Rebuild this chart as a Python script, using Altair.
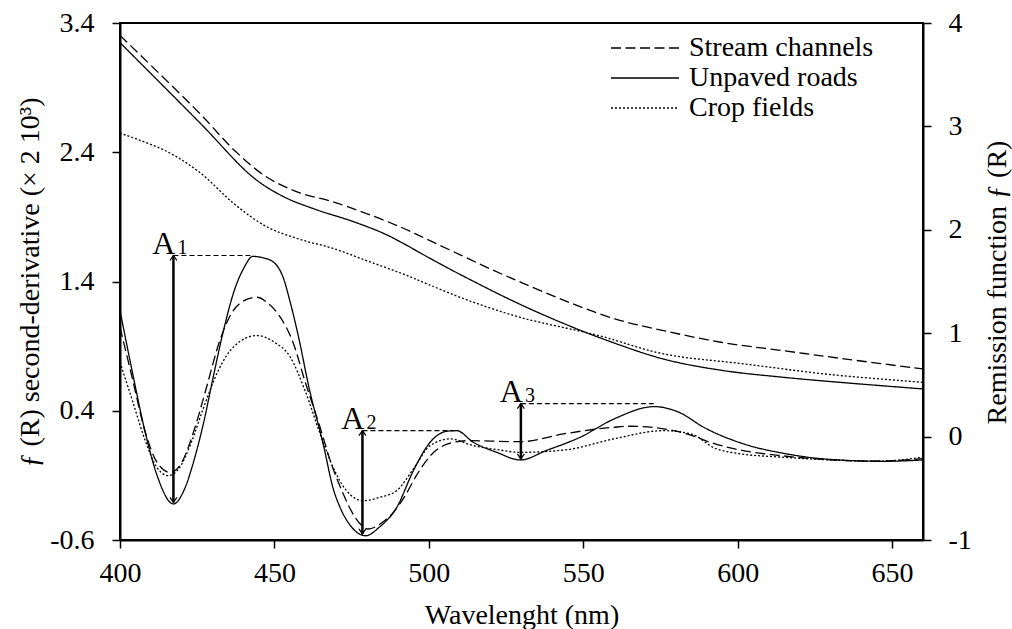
import altair as alt
import pandas as pd

FONT = "Liberation Serif"
SERIES = ["Stream channels", "Unpaved roads", "Crop fields"]

# ---------- Remission function f(R)  (right axis) ----------
wl_R_stream = [400, 426, 437, 447.5, 458, 469, 480, 491, 500, 510, 520, 530, 544, 560, 576, 595, 615, 635, 660]
R_stream = [3.88, 3.12, 2.77, 2.51, 2.36, 2.27, 2.155, 2.025, 1.90, 1.76, 1.62, 1.49, 1.315, 1.14, 1.025, 0.91, 0.83, 0.75, 0.654]

wl_R_roads = [400, 426, 443, 453, 464, 474.5, 485, 491, 500, 510, 527, 540, 555, 576, 595, 615, 635, 660]
R_roads = [3.81, 3.03, 2.51, 2.32, 2.19, 2.09, 1.97, 1.88, 1.73, 1.57, 1.315, 1.14, 0.96, 0.75, 0.64, 0.573, 0.52, 0.461]

wl_R_crop = [400, 415, 426, 437, 447.5, 458, 469, 480, 491, 500, 513, 530, 555, 576, 602, 630, 660]
R_crop = [2.935, 2.76, 2.55, 2.25, 2.03, 1.91, 1.82, 1.70, 1.58, 1.47, 1.315, 1.15, 0.977, 0.80, 0.703, 0.60, 0.525]

# ---------- f(R) second derivative  (left axis) ----------
wl_D_stream = [400, 404, 408, 412, 416.2, 420, 424, 428, 432, 436, 440, 444.3, 448, 452, 456, 460, 464.8, 468,
               472.3, 476, 480.4, 484, 488, 492, 496, 500.4, 508, 513.4, 520, 529.8, 543.6, 559.8, 565, 576, 585,
               591, 600, 615, 630, 645, 660]
D_stream = [1.046, 0.65, 0.25, 0.0, -0.077, 0.0, 0.25, 0.58, 0.92, 1.15, 1.25, 1.278, 1.23, 1.12, 0.93, 0.62, 0.27, 0.02,
            -0.244, -0.42, -0.515, -0.48, -0.40, -0.27, -0.10, 0.05, 0.156, 0.169, 0.165, 0.161, 0.221, 0.272, 0.28,
            0.26, 0.21, 0.156, 0.10, 0.05, 0.02, 0.01, 0.03]

wl_D_roads = [400, 404, 408, 412, 417.3, 421, 424, 427, 430, 433.5, 437, 440, 443, 446, 449.7, 453, 455, 458, 461,
              466, 469, 471.3, 475, 479.5, 484, 489.6, 495, 500.4, 505.8, 509, 514.4, 522, 529.6, 538, 549, 560,
              573, 581, 589, 602, 615, 628, 647, 660]
D_roads = [1.175, 0.70, 0.25, -0.10, -0.321, -0.20, 0.02, 0.30, 0.64, 1.02, 1.33, 1.50, 1.594, 1.585, 1.55, 1.42, 1.25,
           0.95, 0.60, 0.12, -0.20, -0.35, -0.50, -0.567, -0.50, -0.348, -0.063, 0.156, 0.241, 0.246, 0.156, 0.078,
           0.019, 0.092, 0.195, 0.337, 0.432, 0.388, 0.272, 0.143, 0.07, 0.027, 0.009, 0.019]

wl_D_crop = [400, 404, 408, 412, 415.6, 419, 423, 427, 432, 437, 444.3, 450, 455, 460, 464.8, 469, 473.4, 478.8,
             484, 489.6, 495, 500.4, 506.9, 514.4, 522, 529.6, 545, 559.8, 576, 585, 592.6, 600, 615, 630, 645, 660]
D_crop = [0.775, 0.48, 0.18, -0.04, -0.102, -0.05, 0.15, 0.42, 0.72, 0.90, 0.982, 0.93, 0.82, 0.55, 0.221, -0.038,
          -0.22, -0.296, -0.27, -0.218, -0.05, 0.13, 0.182, 0.13, 0.10, 0.078, 0.10, 0.182, 0.246, 0.22, 0.11, 0.07,
          0.04, 0.02, 0.01, 0.04]

# ---------- A1..A3 annotations (left axis units) ----------
ann_letter = ["A", "A", "A"]
ann_index = ["1", "2", "3"]
ann_wl = [417.3, 478.5, 529.8]
ann_top = [1.601, 0.246, 0.455]
ann_bottom = [-0.309, -0.553, 0.027]
ann_guide_end = [443.2, 509.0, 572.8]


def long_df(pairs):
    rows = []
    for name, wls, vals in pairs:
        for w, v in zip(wls, vals):
            rows.append({"wl": w, "val": v, "surface": name})
    return pd.DataFrame(rows)


df_R = long_df([(SERIES[0], wl_R_stream, R_stream), (SERIES[1], wl_R_roads, R_roads), (SERIES[2], wl_R_crop, R_crop)])
df_D = long_df([(SERIES[0], wl_D_stream, D_stream), (SERIES[1], wl_D_roads, D_roads), (SERIES[2], wl_D_crop, D_crop)])
df_A = pd.DataFrame({"letter": ann_letter, "idx": ann_index, "wl": ann_wl, "top": ann_top,
                     "bottom": ann_bottom, "end": ann_guide_end})

x_scale = alt.Scale(domain=[400, 660], nice=False, zero=False)
yL_scale = alt.Scale(domain=[-0.6, 3.4], nice=False, zero=False)
yR_scale = alt.Scale(domain=[-1, 4], nice=False, zero=False)
dash_scale = alt.Scale(domain=SERIES, range=[[10, 4.5], [1, 0], [2, 2]])

legend = alt.Legend(title=None, orient="none", legendX=490, legendY=10, symbolType="stroke",
                    symbolSize=4624, symbolStrokeWidth=1.3, symbolStrokeColor="black",
                    labelFont=FONT, labelFontSize=28, labelColor="black", clipHeight=30, labelLimit=0,
                    rowPadding=0, labelOffset=9, padding=0)

x_axis = alt.Axis(title="Wavelenght (nm)", values=[400, 450, 500, 550, 600, 650], labelPadding=11,
                  labelFlush=False, titleX=401.5, titleY=83.5, titleBaseline="alphabetic", titleAnchor="middle")

yL_axis = alt.Axis(orient="left", title="ƒ (R) second-derivative (× 2 10³)", values=[-0.6, 0.4, 1.4, 2.4, 3.4],
                   labelExpr="(datum.value < 0 ? '-' : '') + format(abs(datum.value), '.1f')",
                   labelFlush=False, labelPadding=18, titleAngle=270, titleX=-90, titleY=259,
                   titleBaseline="middle", titleAlign="center")

yR_axis = alt.Axis(orient="right", title="Remission function ƒ (R)", values=[-1, 0, 1, 2, 3, 4],
                   labelExpr="(datum.value < 0 ? '-' : '') + format(abs(datum.value), 'd')",
                   labelFlush=False, labelPadding=17, titleAngle=270, titleX=74, titleY=259,
                   titleBaseline="middle", titleAlign="center")

X = alt.X("wl:Q", scale=x_scale, axis=x_axis)

d_lines = alt.Chart(df_D).mark_line(color="black", strokeWidth=1.3, interpolate="monotone", clip=True).encode(
    x=X,
    y=alt.Y("val:Q", scale=yL_scale, axis=yL_axis),
    strokeDash=alt.StrokeDash("surface:N", scale=dash_scale, legend=legend),
)

guides = alt.Chart(df_A).mark_rule(color="black", strokeWidth=1.1, strokeDash=[5, 3]).encode(
    x=X,
    x2="end:Q",
    y=alt.Y("top:Q", scale=yL_scale, axis=yL_axis),
)

shafts = alt.Chart(df_A).mark_rule(color="black", strokeWidth=2.5).encode(
    x=X,
    y=alt.Y("top:Q", scale=yL_scale, axis=yL_axis),
    y2="bottom:Q",
)

heads_up = alt.Chart(df_A).mark_point(shape="M-0.7,1L0,0L0.7,1", size=100, filled=False,
                                      color="black", strokeWidth=1.2, opacity=1).encode(
    x=X,
    y=alt.Y("top:Q", scale=yL_scale, axis=yL_axis),
)

heads_down = alt.Chart(df_A).mark_point(shape="M-0.7,-1L0,0L0.7,-1", size=100, filled=False,
                                        color="black", strokeWidth=1.2, opacity=1).encode(
    x=X,
    y=alt.Y("bottom:Q", scale=yL_scale, axis=yL_axis),
)

letters = alt.Chart(df_A).mark_text(font=FONT, fontSize=32, align="right", baseline="alphabetic",
                                    dx=2, dy=-2, color="black").encode(
    x=X,
    y=alt.Y("top:Q", scale=yL_scale, axis=yL_axis),
    text="letter:N",
)

indices = alt.Chart(df_A).mark_text(font=FONT, fontSize=20, align="left", baseline="alphabetic",
                                    dx=4, dy=-2, color="black").encode(
    x=X,
    y=alt.Y("top:Q", scale=yL_scale, axis=yL_axis),
    text="idx:N",
)

left_layer = alt.layer(d_lines, guides, shafts, heads_up, heads_down, letters, indices)

r_lines = alt.Chart(df_R).mark_line(color="black", strokeWidth=1.3, interpolate="catmull-rom", clip=True).encode(
    x=X,
    y=alt.Y("val:Q", scale=yR_scale, axis=yR_axis),
    strokeDash=alt.StrokeDash("surface:N", scale=dash_scale, legend=legend),
)

chart = alt.layer(left_layer, r_lines).resolve_scale(y="independent").properties(
    width=803, height=517,
    autosize=alt.AutoSizeParams(type="none"),
    padding={"left": 120, "top": 23, "right": 89, "bottom": 89},
    background="white",
).configure_axis(
    grid=False, domainColor="black", domainWidth=2, tickColor="black", tickWidth=1.5, tickSize=8,
    labelFont=FONT, labelFontSize=28, labelColor="black",
    titleFont=FONT, titleFontSize=28, titleFontWeight="normal", titleColor="black",
).configure_view(stroke="black", strokeWidth=2)

chart.save("out.html", embed_options={"renderer": "svg", "actions": False})
